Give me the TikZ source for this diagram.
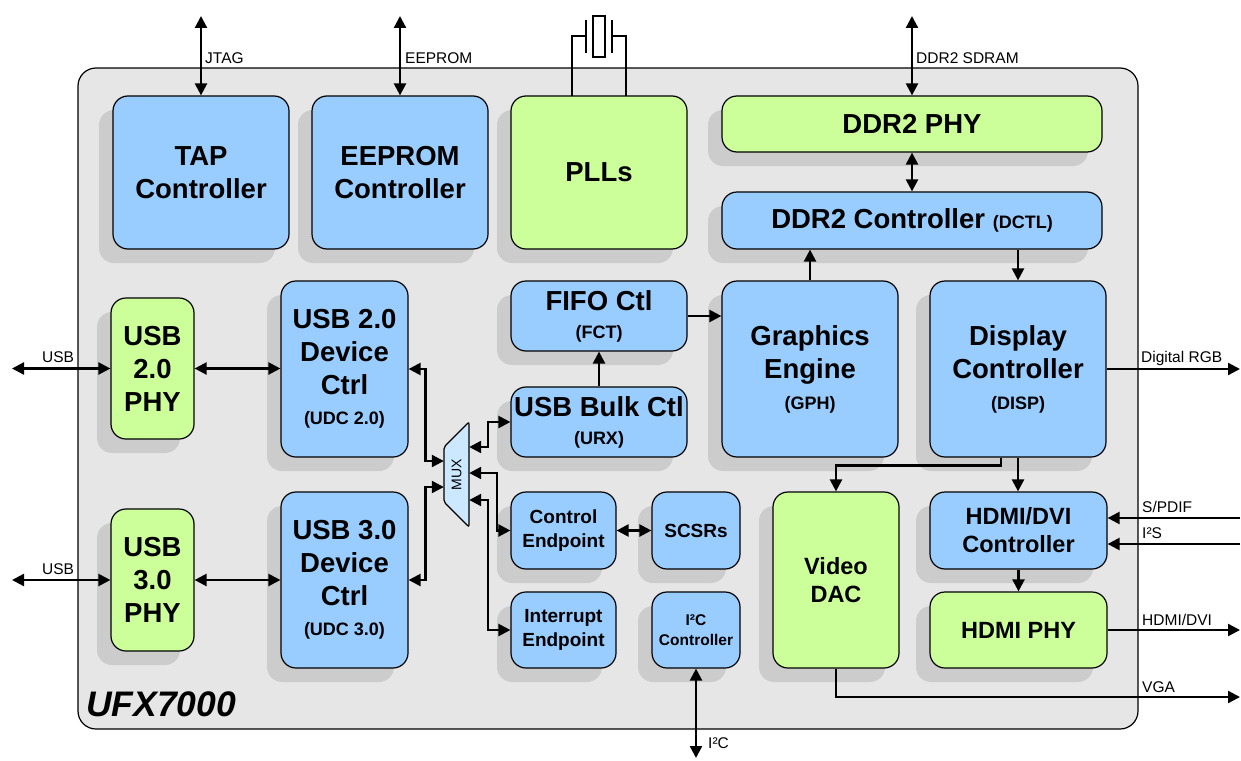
\documentclass[tikz,border=0pt]{standalone}
\usepackage{fontspec}
\setmainfont{Liberation Sans}
\usetikzlibrary{arrows.meta,shadows,calc}
\definecolor{bluebox}{HTML}{99CCFF}
\definecolor{greenbox}{HTML}{CCFF99}
\definecolor{chipgray}{HTML}{E6E6E6}
\definecolor{shadowgray}{HTML}{CCCCCC}
\definecolor{muxblue}{HTML}{CCE8FF}
\begin{document}
\begin{tikzpicture}[x=1pt,y=-1pt,
  >={Triangle[length=12pt,width=12pt]},
  blk/.style={draw, line width=1.2pt, rounded corners=15pt, align=center, inner sep=0pt,
    font=\fontsize{27.5}{33}\selectfont\bfseries,
    drop shadow={shadow xshift=-14pt, shadow yshift=-14pt, fill=shadowgray, opacity=1}},
  bluebk/.style={blk, fill=bluebox},
  greenbk/.style={blk, fill=greenbox},
  midfont/.style={font=\fontsize{23.5}{28}\selectfont\bfseries},
  smallfont/.style={font=\fontsize{19}{24}\selectfont\bfseries},
  tinyfont/.style={font=\fontsize{15.5}{20}\selectfont\bfseries},
  conn/.style={line width=2.3pt},
  xtal/.style={line width=1.6pt},
  lbl/.style={font=\fontsize{15.5}{18}\selectfont, inner sep=0pt, anchor=base west},
]
\useasboundingbox (0,0) rectangle (1241,760);
\fill[white] (0,0) rectangle (1241,760);

% chip outline
\draw[fill=chipgray, line width=1.2pt, rounded corners=18pt] (78,68) rectangle (1138,729);
\node[font=\fontsize{35.5}{40}\selectfont\bfseries\itshape, anchor=base west, inner sep=0pt] (chipname) at (86,716.5) {UFX7000};

% top row
\node[bluebk, minimum width=176pt, minimum height=153pt] (tap) at (201,172.5) {TAP\\Controller};
\node[bluebk, minimum width=176pt, minimum height=153pt] (eeprom) at (400,172.5) {EEPROM\\Controller};
\node[greenbk, minimum width=176pt, minimum height=153pt] (pll) at (599,172.5) {PLLs};
\node[greenbk, minimum width=380pt, minimum height=56pt] (phy) at (912,124) {DDR2 PHY};
\node[bluebk, minimum width=380pt, minimum height=57pt] (dctl) at (912,220.5) {DDR2 Controller {\fontsize{18}{22}\selectfont (DCTL)}};

% USB column
\node[greenbk, minimum width=83pt, minimum height=141pt] (phy2) at (152.5,368.5) {USB\\2.0\\PHY};
\node[greenbk, minimum width=83pt, minimum height=142pt] (phy3) at (152.5,580) {USB\\3.0\\PHY};
\node[bluebk, minimum width=127pt, minimum height=176pt] (udc2) at (344.5,369) {USB 2.0\\Device\\Ctrl\\[-3pt]{\fontsize{18}{22}\selectfont (UDC 2.0)}};
\node[bluebk, minimum width=127pt, minimum height=176pt] (udc3) at (344.5,580) {USB 3.0\\Device\\Ctrl\\[-3pt]{\fontsize{18}{22}\selectfont (UDC 3.0)}};

% middle
\node[bluebk, minimum width=176pt, minimum height=70pt] (fifo) at (599,316) {FIFO Ctl\\[-5pt]{\fontsize{18}{22}\selectfont (FCT)}};
\node[bluebk, minimum width=176pt, minimum height=70pt] (bulk) at (599,422) {USB Bulk Ctl\\[-5pt]{\fontsize{18}{22}\selectfont (URX)}};
\node[bluebk, smallfont, minimum width=105pt, minimum height=77pt] (cep) at (563.5,530.5) {Control\\Endpoint};
\node[bluebk, smallfont, minimum width=88pt, minimum height=77pt] (scsr) at (696,530.5) {SCSRs};
\node[bluebk, smallfont, minimum width=105pt, minimum height=76pt] (iep) at (563.5,630) {Interrupt\\Endpoint};
\node[bluebk, tinyfont, minimum width=88pt, minimum height=76pt] (i2c) at (696,630) {I²C\\Controller};

% right
\node[bluebk, minimum width=176pt, minimum height=176pt] (ge) at (810,369) {Graphics\\Engine\\[-2pt]{\fontsize{18}{22}\selectfont (GPH)}};
\node[bluebk, minimum width=176pt, minimum height=176pt] (disp) at (1018,369) {Display\\Controller\\[-2pt]{\fontsize{18}{22}\selectfont (DISP)}};
\node[greenbk, midfont, minimum width=126pt, minimum height=176pt] (dac) at (836,580) {Video\\DAC};
\node[bluebk, midfont, minimum width=177pt, minimum height=77pt] (hctl) at (1018.5,530.5) {HDMI/DVI\\Controller};
\node[greenbk, midfont, minimum width=177pt, minimum height=76pt] (hphy) at (1018.5,630) {HDMI PHY};

% MUX
\draw[fill=muxblue, line width=1.2pt, rounded corners=2pt] (444,447) -- (469,422) -- (469,527) -- (444,502) -- cycle;
\node[minimum width=25pt, minimum height=105pt, inner sep=0pt] (mux) at (456.5,474.5) {};
\node[rotate=90, font=\fontsize{14}{16}\selectfont, inner sep=0pt] (muxtext) at (mux.center) {MUX};

% crystal
\draw[xtal] (572,96) -- (572,36) -- (586,36);
\draw[xtal] (586,20) -- (586,53);
\draw[xtal] (593,16) rectangle (605,57);
\draw[xtal] (612,20) -- (612,53);
\draw[xtal] (612,36) -- (626,36) -- (626,96);

% external coordinates
\coordinate (jtagend) at (201,16);
\coordinate (eepromend) at (400,16);
\coordinate (ddrend) at (912,16);
\coordinate (usb2end) at (12,368.5);
\coordinate (usb3end) at (12,580);
\coordinate (rgbend) at (1240,369);
\coordinate (spdifend) at (1240,518);
\coordinate (i2send) at (1240,544);
\coordinate (hdmiend) at (1240,630);
\coordinate (vgaend) at (1240,697);
\coordinate (i2cend) at (696,758);

% connectors
\draw[conn,<->] (tap.north) -- (jtagend);
\draw[conn,<->] (eeprom.north) -- (eepromend);
\draw[conn,<->] (phy.north) -- (ddrend);
\draw[conn,<->] (phy.south) -- (dctl.north);
\draw[conn,->] (ge.north) -- (ge.north |- dctl.south);
\draw[conn,->] (disp.north |- dctl.south) -- (disp.north);
\draw[conn,->] (fifo.east) -- (fifo.east -| ge.west);
\draw[conn,->] (bulk.north) -- (fifo.south);
\draw[conn,->] (disp.east) -- (rgbend);
\draw[conn,->] ($(disp.south)+(-17,0)$) -- ++(0,8) -| (dac.north);
\draw[conn,->] (disp.south) -- (disp.south |- hctl.north);
\draw[conn,->] (hctl.south) -- (hphy.north);
\draw[conn,->] (spdifend) -- (spdifend -| hctl.east);
\draw[conn,->] (i2send) -- (i2send -| hctl.east);
\draw[conn,->] (hphy.east) -- (hdmiend);
\draw[conn,->] (dac.south) |- (vgaend);
\draw[conn,<->] (i2c.south) -- (i2cend);
\draw[conn,<->] (cep.east) -- (scsr.west);
\draw[conn,<->] (usb2end) -- (phy2.west);
\draw[conn,<->] (phy2.east) -- (phy2.east -| udc2.west);
\draw[conn,<->] (usb3end) -- (phy3.west);
\draw[conn,<->] (phy3.east) -- (udc3.west);
\draw[conn,<->] (udc2.east) -- ++(17,0) |- ($(mux.west)+(0,-13.5)$);
\draw[conn,<->] (udc3.east) -- ++(17,0) |- ($(mux.west)+(0,12.5)$);
\draw[conn,<->] ($(mux.east)+(0,-27.5)$) -- ++(19,0) |- (bulk.west);
\draw[conn,<->] ($(mux.east)+(0,-1.5)$) -- ++(28,0) |- (cep.west);
\draw[conn,<->] ($(mux.east)+(0,25.5)$) -- ++(19,0) |- (iep.west);

% labels
\node[lbl] (ljtag) at (205,63.5) {JTAG};
\node[lbl] (leeprom) at (405,63.5) {EEPROM};
\node[lbl] (lddr) at (916,63.5) {DDR2 SDRAM};
\node[lbl] (lusb2) at (42,362.5) {USB};
\node[lbl] (lusb3) at (42,574.5) {USB};
\node[lbl] (lrgb) at (1141,362.5) {Digital RGB};
\node[lbl] (lspdif) at (1142,512.5) {S/PDIF};
\node[lbl] (li2s) at (1142,538.5) {I²S};
\node[lbl] (lhdmi) at (1142,625.5) {HDMI/DVI};
\node[lbl] (lvga) at (1142,692.5) {VGA};
\node[lbl] (li2c) at (708,748.5) {I²C};
\end{tikzpicture}
\end{document}
